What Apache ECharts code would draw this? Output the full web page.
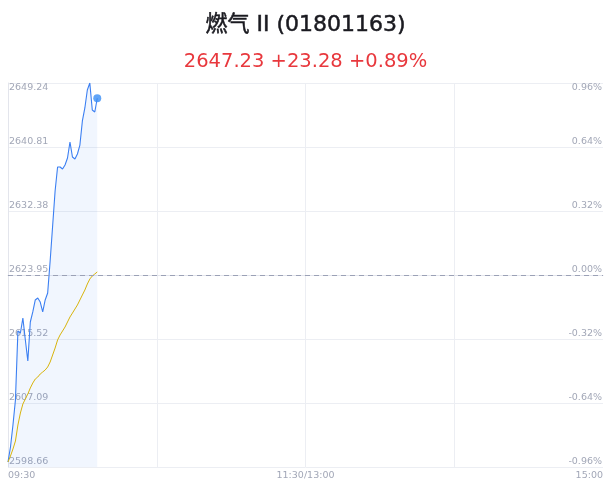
<!DOCTYPE html>
<html>
<head>
<meta charset="utf-8">
<script src="https://cdn.jsdelivr.net/npm/echarts@6/dist/echarts.min.js"></script>
<style>
html,body{margin:0;padding:0;background:#fff;}
#c{width:611px;height:492px;}
</style>
</head>
<body>
<div id="c"></div>
<script>
const titleText = '燃气 II (01801163)';
const subText = '2647.23 +23.28 +0.89%';
const prevClose = 2623.95;
const yMin = 2598.66, yMax = 2649.24, yStep = 8.43;
const pctMin = -0.96, pctMax = 0.96, pctStep = 0.32;
const totalMinutes = 240;
const xTickPos = [0, 120, 240];
const xTickText = ['09:30', '11:30/13:00', '15:00'];
const price = [
  2599.32, 2601.29, 2604.19, 2607.49, 2616.57, 2616.31, 2618.29, 2615.39, 2612.62, 2617.76,
  2619.08, 2620.66, 2620.92, 2620.39, 2619.08, 2620.66, 2621.58, 2625.79, 2630.40, 2635.01,
  2638.18, 2638.18, 2637.91, 2638.44, 2639.36, 2641.47, 2639.49, 2639.23, 2639.89, 2641.07,
  2644.24, 2645.95, 2648.32, 2649.24, 2645.68, 2645.42, 2647.23
];
const avgPrice = [
  2599.32, 2600.11, 2601.03, 2602.08, 2604.19, 2605.77, 2606.96, 2607.62, 2608.28, 2609.07,
  2609.72, 2610.25, 2610.51, 2610.91, 2611.17, 2611.44, 2611.83, 2612.49, 2613.41, 2614.33,
  2615.39, 2616.05, 2616.57, 2617.10, 2617.76, 2618.42, 2618.94, 2619.47, 2620.00, 2620.66,
  2621.32, 2621.97, 2622.76, 2623.42, 2623.82, 2624.08, 2624.35
];

const FONT = "'DejaVu Sans', 'Noto Sans CJK SC', sans-serif";
const LABEL = '#a2a7b7';
const GRID = '#eceef3';

const chart = echarts.init(document.getElementById('c'), null, {renderer: 'canvas'});
const priceData = price.map((v, i) => [i, v]);
const avgData = avgPrice.map((v, i) => [i, v]);
const last = priceData[priceData.length - 1];

chart.setOption({
  animation: false,
  backgroundColor: '#fff',
  title: [
    {text: titleText, left: 'center', top: 9,
     textStyle: {fontFamily: FONT, fontSize: 22, fontWeight: 'normal', color: '#1a1a20',
                 textBorderColor: '#1a1a20', textBorderWidth: 0.5}},
    {text: subText, left: 'center', top: 47,
     textStyle: {fontFamily: FONT, fontSize: 19.5, fontWeight: 'normal', color: '#e8383d'}}
  ],
  grid: {left: 8, right: 8, top: 83, bottom: 25, containLabel: false},
  xAxis: {
    type: 'value', min: 0, max: totalMinutes, interval: 60,
    axisLine: {show: true, lineStyle: {color: '#e3e5ec'}},
    axisTick: {show: false},
    splitLine: {show: true, showMinLine: false, showMaxLine: false, lineStyle: {color: GRID}},
    axisLabel: {
      fontFamily: FONT, fontSize: 9.5, color: LABEL, margin: 4,
      alignMinLabel: 'left', alignMaxLabel: 'right',
      formatter: v => { const k = xTickPos.indexOf(v); return k >= 0 ? xTickText[k] : ''; }
    }
  },
  yAxis: [
    {
      type: 'value', position: 'left', min: yMin, max: yMax, interval: yStep,
      axisLine: {show: true, lineStyle: {color: '#e3e5ec'}},
      axisTick: {show: false},
      splitLine: {show: true, lineStyle: {color: GRID}},
      axisLabel: {
        inside: true, margin: 1, fontFamily: FONT, fontSize: 9.5, color: LABEL,
        verticalAlign: 'middle', lineHeight: 10,
        formatter: v => {
          const s = v.toFixed(2);
          return Math.abs(v - yMax) < 1e-6 ? '\n' + s : s + '\n';
        }
      }
    },
    {
      type: 'value', position: 'right', min: pctMin, max: pctMax, interval: pctStep,
      axisLine: {show: false}, axisTick: {show: false}, splitLine: {show: false},
      axisLabel: {
        inside: true, margin: 1, fontFamily: FONT, fontSize: 9.5, color: LABEL,
        verticalAlign: 'middle', lineHeight: 10,
        formatter: v => {
          const s = (Math.abs(v) < 1e-9 ? 0 : v).toFixed(2) + '%';
          return Math.abs(v - pctMax) < 1e-6 ? '\n' + s : s + '\n';
        }
      }
    }
  ],
  series: [
    {
      type: 'line', name: 'price', data: priceData, yAxisIndex: 0,
      symbol: 'none', smooth: false,
      lineStyle: {color: '#3b7ff2', width: 1.1},
      areaStyle: {color: 'rgba(59,127,242,0.1)', origin: 'start'},
      z: 3,
      markLine: {
        silent: true, symbol: ['none', 'none'], label: {show: false},
        lineStyle: {color: '#9ba1b6', type: [5, 4], width: 1},
        data: [{yAxis: prevClose}]
      }
    },
    {
      type: 'line', name: 'avg', data: avgData, yAxisIndex: 0,
      symbol: 'none', lineStyle: {color: '#d8b40c', width: 1}, z: 4
    },
    {
      type: 'scatter', data: [last], yAxisIndex: 0,
      symbol: 'circle', symbolSize: 8, itemStyle: {color: '#3a8df5'}, z: 5
    }
  ]
});
</script>
</body>
</html>
